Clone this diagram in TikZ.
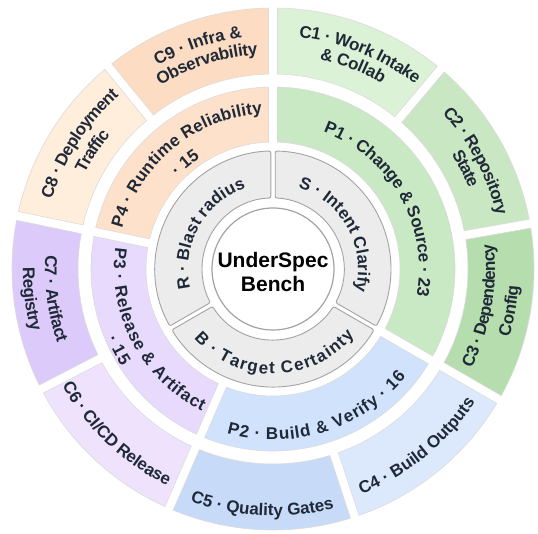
\documentclass[tikz,border=0pt]{standalone}
\usepackage{fontspec}
\setmainfont{Liberation Sans}
\definecolor{txt}{HTML}{1F2937}
\definecolor{cA}{HTML}{DCF2D6}
\definecolor{cB}{HTML}{C9E7C3}
\definecolor{cC}{HTML}{B5DDAE}
\definecolor{pG}{HTML}{C9E8C4}
\definecolor{pB}{HTML}{D0E2FC}
\definecolor{cD}{HTML}{DCE9FD}
\definecolor{cE}{HTML}{C7DBF8}
\definecolor{pP}{HTML}{E7DAFC}
\definecolor{cF}{HTML}{EEE2FD}
\definecolor{cG}{HTML}{DCCBFA}
\definecolor{pO}{HTML}{FDE1CA}
\definecolor{cH}{HTML}{FEEEDB}
\definecolor{cI}{HTML}{FCDDC3}
\definecolor{inner}{HTML}{ECECEC}
\definecolor{innerline}{HTML}{A3A3A3}
\font\labprim="Liberation Sans/B" at 17pt
\newcommand\labfont{\labprim}
% sector: #1 start angle (larger), #2 end angle, #3 inner r, #4 outer r, #5 style, #6 half gap
\newcommand\ringsector[6]{%
\path[#5] ({#1-asin(#6/#4)}:#4pt) arc[start angle={#1-asin(#6/#4)}, end angle={#2+asin(#6/#4)}, radius=#4pt]
 -- ({#2+asin(#6/#3)}:#3pt) arc[start angle={#2+asin(#6/#3)}, end angle={#1-asin(#6/#3)}, radius=#3pt] -- cycle;}
\ExplSyntaxOn
\box_new:N \l__arc_char_box
\box_new:N \l__arc_all_box
\dim_new:N \l__arc_pos_dim
\dim_new:N \l__arc_space_dim
\fp_new:N \l__arc_ang_fp
\seq_new:N \l__arc_words_seq
\bool_new:N \l__arc_first_bool
\tl_new:N \l__arc_x_tl
\tl_new:N \l__arc_y_tl
\tl_new:N \l__arc_rot_tl
% #1 mid, #2 baseline radius, #3 dir, #4 char, #5 advance radius
\cs_new_protected:Npn \arc_char:nnnnn #1#2#3#4#5
  {
    \hbox_set:Nn \l__arc_char_box { \labfont #4 }
    \fp_set:Nn \l__arc_ang_fp
      { #1 - (#3) * ( \dim_to_fp:n { \l__arc_pos_dim + 0.5 \box_wd:N \l__arc_char_box } ) / (#5) * 180 / \c_pi_fp }
    \tl_set:Nx \l__arc_x_tl { \fp_eval:n { (#2) * cosd ( \l__arc_ang_fp ) } }
    \tl_set:Nx \l__arc_y_tl { \fp_eval:n { (#2) * sind ( \l__arc_ang_fp ) } }
    \tl_set:Nx \l__arc_rot_tl { \fp_eval:n { \l__arc_ang_fp - (#3) * 90 } }
    \node [ rotate = \l__arc_rot_tl , anchor = base , inner~sep = 0pt , outer~sep = 0pt , text = txt , font = \labfont ]
      at ( \l__arc_x_tl , \l__arc_y_tl ) { #4 } ;
    \dim_add:Nn \l__arc_pos_dim { \box_wd:N \l__arc_char_box }
  }
% #1 mid angle, #2 baseline radius, #3 direction (1 clockwise / -1 flipped), #4 advance radius, #5 text
\NewDocumentCommand \arclabel { m m m m m }
  {
    \hbox_set:Nn \l_tmpa_box { \labfont a \c_space_tl b }
    \hbox_set:Nn \l_tmpb_box { \labfont ab }
    \dim_set:Nn \l__arc_space_dim { \box_wd:N \l_tmpa_box - \box_wd:N \l_tmpb_box }
    \hbox_set:Nn \l__arc_all_box { \labfont #5 }
    \dim_set:Nn \l__arc_pos_dim { -0.5 \box_wd:N \l__arc_all_box }
    \seq_set_split:Nnn \l__arc_words_seq { ~ } { #5 }
    \bool_set_true:N \l__arc_first_bool
    \seq_map_inline:Nn \l__arc_words_seq
      {
        \bool_if:NF \l__arc_first_bool { \dim_add:Nn \l__arc_pos_dim { \l__arc_space_dim } }
        \bool_set_false:N \l__arc_first_bool
        \tl_map_inline:nn { ##1 } { \arc_char:nnnnn {#1} {#2} {#3} {####1} {#4} }
      }
  }
\ExplSyntaxOff
\tikzset{
  outerseg/.style={fill=#1, draw=black!14, line width=0.6pt},
  innerseg/.style={fill=inner, draw=innerline, line width=0.9pt, rounded corners=2pt},
}
\begin{document}
\begin{tikzpicture}[x=1pt,y=1pt]
\useasboundingbox (0,0) rectangle (538,533);
\begin{scope}[shift={(273,264)}]
% outer ring
\ringsector{90}{50}{195}{261}{outerseg=cA}{4.5}
\ringsector{50}{10}{195}{261}{outerseg=cB}{4.5}
\ringsector{10}{-30}{195}{261}{outerseg=cC}{4.5}
\ringsector{-30}{-71.739}{195}{261}{outerseg=cD}{4.5}
\ringsector{-71.739}{-113.478}{195}{261}{outerseg=cE}{4.5}
\ringsector{-113.478}{-152.609}{195}{261}{outerseg=cF}{4.5}
\ringsector{-152.609}{-191.739}{195}{261}{outerseg=cG}{4.5}
\ringsector{168.261}{129.130}{195}{261}{outerseg=cH}{4.5}
\ringsector{129.130}{90}{195}{261}{outerseg=cI}{4.5}
% middle ring
\ringsector{90}{-30}{127}{182}{outerseg=pG}{4.5}
\ringsector{-30}{-113.478}{127}{182}{outerseg=pB}{4.5}
\ringsector{-113.478}{-191.739}{127}{182}{outerseg=pP}{4.5}
\ringsector{168.261}{90}{127}{182}{outerseg=pO}{4.5}
% inner ring
\ringsector{90}{-30}{71}{118}{innerseg}{2.2}
\ringsector{-30}{-150}{71}{118}{innerseg}{2.2}
\ringsector{210}{90}{71}{118}{innerseg}{2.2}
% centre
\node[circle, minimum size=122pt, fill=white, draw=innerline, line width=1.2pt] (hub) at (0,0) {};
\node[align=center, font=\fontsize{21}{24.5}\selectfont\bfseries, text=black] (title) at (0,-3) {UnderSpec\\Bench};
% inner labels
\arclabel{29}{85}{1}{85}{S · Intent Clarify}
\arclabel{151}{85}{1}{84}{R · Blast radius}
\arclabel{-89.5}{105}{-1}{90}{B · Target Certainty}
% middle labels
\arclabel{29.6}{146}{1}{151}{P1 · Change \& Source · 23}
\arclabel{-72.5}{171}{-1}{155}{P2 · Build \& Verify · 16}
\arclabel{-152.3}{159}{-1}{145}{P3 · Release \& Artifact}
\arclabel{-152.3}{180}{-1}{165}{· 15}
\arclabel{129.5}{156}{1}{152}{P4 · Runtime Reliability}
\arclabel{129.5}{133}{1}{133}{· 15}
% outer labels
\arclabel{68}{233}{1}{245}{C1 · Work Intake}
\arclabel{68.5}{215}{1}{222}{\& Collab}
\arclabel{28}{230}{1}{248}{C2 · Repository}
\arclabel{27.5}{212}{1}{240}{State}
\arclabel{-10}{222}{-1}{240}{C3 · Dependency}
\arclabel{-10}{246}{-1}{255}{Config}
\arclabel{-50.9}{242}{-1}{243}{C4 · Build Outputs}
\arclabel{-92.6}{247}{-1}{247}{C5 · Quality Gates}
\arclabel{-133.5}{241}{-1}{250}{C6 · CI/CD Release}
\arclabel{-172.2}{228}{-1}{249}{C7 · Artifact}
\arclabel{-172.8}{250}{-1}{265}{Registry}
\arclabel{147}{232}{1}{250}{C8 · Deployment}
\arclabel{146.9}{211}{1}{241}{Traffic}
\arclabel{108.6}{233.5}{1}{236}{C9 · Infra \&}
\arclabel{107.8}{215}{1}{225}{Observability}
\end{scope}
\end{tikzpicture}
\end{document}
